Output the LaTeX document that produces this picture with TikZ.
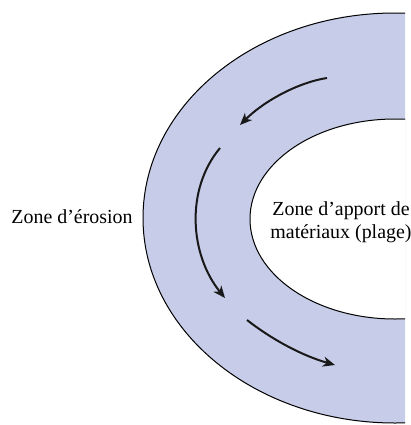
\documentclass[tikz,border=0pt]{standalone}
\usepackage{fontspec}
\setmainfont{Liberation Serif}
\usepackage{xcolor}
\usepackage{tikz}
\usetikzlibrary{arrows.meta,positioning}
\definecolor{lit}{RGB}{199,204,232}

\begin{document}
\begin{tikzpicture}[x=1bp, y=-1bp,
        courant/.style={-{Stealth[length=12bp, width=10bp, inset=3.5bp]}, line width=2bp, black!90},
        rive/.style={draw=black, line width=1bp},
        etiquette/.style={font=\fontsize{20}{23}\selectfont, inner sep=0pt, align=center}]
        % Méandre : rive d'érosion et rive de dépôt
        \useasboundingbox (0,0) rectangle (411,425);
        \begin{scope}
            \clip (0,0) rectangle (405,425);
            \filldraw[rive, fill=lit] (395,218) ellipse [x radius=252, y radius=205];
            \filldraw[rive, fill=white] (395,219) ellipse [x radius=145, y radius=100];
        \end{scope}

        \node[etiquette, anchor=base] (erosion) at (72,223) {Zone d’érosion};
        \node[etiquette] (apport) at (341,222) {Zone d’apport de\\matériaux (plage)};

        \coordinate (c1a) at (327,78);
        \coordinate (c1b) at (240,125);
        \coordinate (c2a) at (220,148);
        \coordinate (c2b) at (225,298);
        \coordinate (c3a) at (247,320);
        \coordinate (c3b) at (335,365);

        \draw[courant] (c1a) .. controls (300,82) and (265,100) .. (c1b);
        \draw[courant] (c2a) .. controls (185,190) and (190,255) .. (c2b);
        \draw[courant] (c3a) .. controls (270,338) and (300,355) .. (c3b);
    \end{tikzpicture}
\end{document}
